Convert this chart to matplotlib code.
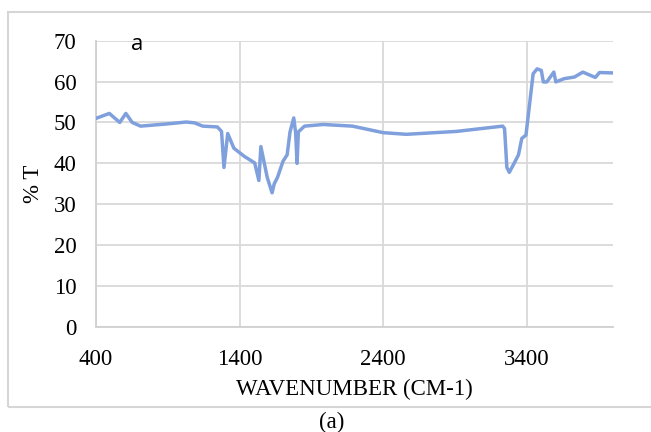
import matplotlib
matplotlib.use("Agg")
import matplotlib.pyplot as plt
from matplotlib.patches import Rectangle

wavenumber = [400, 493, 565, 608, 652, 710, 883, 1028, 1086, 1143, 1245, 1274, 1291,
              1317, 1360, 1433, 1505, 1534, 1548, 1592, 1626, 1641, 1664, 1702, 1731,
              1751, 1777, 1790, 1800, 1809, 1852, 1982, 2185, 2400, 2561, 2908, 3232,
              3245, 3261, 3278, 3313, 3342, 3365, 3394, 3415, 3444, 3472, 3501, 3515,
              3539, 3588, 3602, 3660, 3732, 3790, 3877, 3906, 4000]
transmittance = [51.0, 52.2, 50.0, 52.2, 50.0, 49.1, 49.6, 50.1, 49.9, 49.1, 48.9, 47.8, 39.0,
                 47.3, 43.7, 41.7, 40.1, 35.8, 44.1, 36.6, 32.8, 35.0, 36.6, 40.5, 42.1,
                 47.7, 51.1, 47.5, 40.0, 47.7, 49.1, 49.5, 49.1, 47.5, 47.1, 47.8, 49.1,
                 48.5, 39.0, 37.8, 40.1, 42.1, 46.1, 46.9, 53.2, 61.9, 63.1, 62.7, 59.9,
                 59.9, 62.3, 59.9, 60.7, 61.1, 62.3, 61.0, 62.2, 62.1]
x_ticks = [400, 1400, 2400, 3400]
y_ticks = [0, 10, 20, 30, 40, 50, 60, 70]

serif = ["Liberation Serif", "DejaVu Serif"]
fs = 16.5
fig = plt.figure(figsize=(6.51, 4.32), dpi=100)
ax = fig.add_axes([0.1475, 0.243, 0.7941, 0.663])

ax.plot(wavenumber, transmittance, color="#7FA0DC", lw=2.5, solid_joinstyle="round",
        solid_capstyle="round", zorder=3)
ax.set_xlim(400, 4000)
ax.set_ylim(0, 70)
ax.set_xticks(x_ticks)
ax.set_yticks(y_ticks)
ax.grid(True, color="#D9D9D9", lw=1.3)
ax.set_axisbelow(True)
for s in ["top", "right"]:
    ax.spines[s].set_visible(False)
for s in ["left", "bottom"]:
    ax.spines[s].set_color("#D0D0D0")
    ax.spines[s].set_linewidth(1.3)
ax.tick_params(length=0, labelsize=fs)
ax.tick_params(axis="y", pad=14)
ax.tick_params(axis="x", pad=16)
for lab in ax.get_xticklabels() + ax.get_yticklabels():
    lab.set_family(serif)

ax.set_xlabel("WAVENUMBER (CM-1)", family=serif, fontsize=fs, labelpad=6)
ax.set_ylabel("% T", family=serif, fontsize=fs, labelpad=7)
ax.text(0.079, 0.986, "a", transform=ax.transAxes, fontsize=16, family="Open Sans",
        va="center", ha="center")

fig.text(332 / 651, 1 - 422 / 432, "(a)", family=serif, fontsize=fs, ha="center", va="center")
fig.patches.append(Rectangle((8 / 651, 1 - 407 / 432), 1.2, (407 - 12) / 432,
                             transform=fig.transFigure, fill=False, ec="#D6D6D6", lw=1.5))

fig.savefig("out.png", dpi=100)
